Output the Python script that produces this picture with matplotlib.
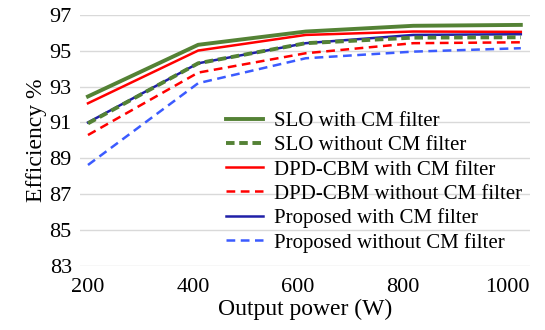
import matplotlib.pyplot as plt

plt.rcParams['font.family'] = ['Liberation Serif', 'DejaVu Serif']

power = [200, 410, 615, 820, 1025]
slo_cm = [92.45, 95.33, 96.07, 96.39, 96.44]
slo_nocm = [90.95, 94.30, 95.42, 95.73, 95.75]
dpd_cm = [92.07, 95.01, 95.88, 96.07, 96.05]
dpd_nocm = [90.30, 93.78, 94.86, 95.42, 95.47]
prop_cm = [91.00, 94.30, 95.42, 95.88, 95.92]
prop_nocm = [88.63, 93.19, 94.58, 94.95, 95.14]

xticks = [200, 400, 600, 800, 1000]
yticks = [83, 85, 87, 89, 91, 93, 95, 97]

fig, ax = plt.subplots(figsize=(5.45, 3.3), dpi=100)
fig.subplots_adjust(left=0.147, right=0.972, top=0.955, bottom=0.194)

ax.plot(power, slo_cm, color='#548235', lw=2.8, label='SLO with CM filter', zorder=3)
ax.plot(power, prop_cm, color='#2020A8', lw=1.8, label='_nolegend_', zorder=2)
ax.plot(power, slo_nocm, color='#548235', lw=2.8, ls=(0, (2.2, 1.2)), label='SLO without CM filter', zorder=4)
ax.plot(power, dpd_cm, color='#FF0000', lw=1.8, label='DPD-CBM with CM filter', zorder=3)
ax.plot(power, dpd_nocm, color='#FF0000', lw=1.8, ls=(0, (3.5, 2.2)), label='DPD-CBM without CM filter', zorder=3)
ax.plot([], [], color='#2020A8', lw=1.8, label='Proposed with CM filter')
ax.plot(power, prop_nocm, color='#3B5BFF', lw=1.8, ls=(0, (3.5, 2.2)), label='Proposed without CM filter', zorder=3)

ax.set_xlim(185, 1042)
ax.set_ylim(83, 97)
ax.set_xticks(xticks)
ax.set_yticks(yticks)
ax.grid(axis='y', color='#D9D9D9', lw=1)
ax.set_axisbelow(True)
for s in ax.spines.values():
    s.set_visible(False)
ax.tick_params(length=0, labelsize=16)
ax.tick_params(axis='x', pad=9)
ax.tick_params(axis='y', pad=6)
ax.set_xlabel('Output power (W)', fontsize=17, labelpad=1)
ax.set_ylabel('Efficiency %', fontsize=17, labelpad=2)

leg = ax.legend(loc='lower right', bbox_to_anchor=(1.015, -0.005), frameon=False, fontsize=15,
                handlelength=1.8, labelspacing=0.22, handletextpad=0.5, borderpad=0.2)

fig.savefig('out.png', dpi=100)
